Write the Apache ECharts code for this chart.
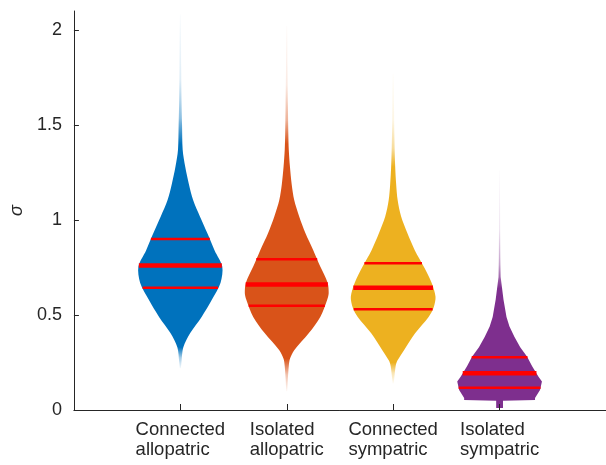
<!DOCTYPE html>
<html>
<head>
<meta charset="utf-8">
<script src="https://cdn.jsdelivr.net/npm/echarts@6/dist/echarts.min.js"></script>
<style>
html,body{margin:0;padding:0;background:#fff;}
#chart{width:606px;height:465px;}
</style>
</head>
<body>
<div id="chart"></div>
<script>
// ---- data ----
const categories = ['Connected\nallopatric', 'Isolated\nallopatric', 'Connected\nsympatric', 'Isolated\nsympatric'];
const categoryPositions = [1, 2, 3, 4];
const yTicks = [0, 0.5, 1, 1.5, 2];

// violin profiles: [sigma, half-width in x-axis units], top to bottom
const profileConnectedAllopatric = [
  [2.08, 0.004], [1.8, 0.008], [1.63, 0.011], [1.5, 0.016], [1.37, 0.022], [1.28, 0.046],
  [1.19, 0.08], [1.105, 0.12], [1.02, 0.183], [0.93, 0.254], [0.84, 0.322], [0.755, 0.394],
  [0.67, 0.378], [0.58, 0.296], [0.49, 0.2], [0.405, 0.093], [0.33, 0.028], [0.25, 0.01], [0.22, 0.004]
];
const profileIsolatedAllopatric = [
  [2.02, 0.004], [1.8, 0.007], [1.6, 0.011], [1.45, 0.015], [1.37, 0.019], [1.28, 0.03],
  [1.19, 0.046], [1.105, 0.07], [1.02, 0.116], [0.93, 0.176], [0.84, 0.25], [0.755, 0.315],
  [0.67, 0.384], [0.615, 0.394], [0.58, 0.38], [0.49, 0.315], [0.405, 0.208], [0.315, 0.07],
  [0.27, 0.03], [0.23, 0.019], [0.16, 0.01], [0.1, 0.004]
];
const profileConnectedSympatric = [
  [1.77, 0.004], [1.6, 0.008], [1.45, 0.011], [1.28, 0.019], [1.19, 0.028], [1.105, 0.042],
  [1.02, 0.074], [0.93, 0.134], [0.84, 0.204], [0.755, 0.287], [0.67, 0.361], [0.596, 0.398],
  [0.54, 0.38], [0.49, 0.333], [0.405, 0.208], [0.315, 0.102], [0.26, 0.04], [0.23, 0.023], [0.14, 0.004]
];
const profileIsolatedSympatric = [
  [1.26, 0.003], [1.0, 0.005], [0.8, 0.007], [0.7, 0.01], [0.58, 0.037], [0.49, 0.065],
  [0.44, 0.093], [0.385, 0.139], [0.33, 0.194], [0.28, 0.259], [0.23, 0.306], [0.175, 0.366],
  [0.15, 0.398], [0.105, 0.38], [0.08, 0.352], [0.063, 0.333], [0.052, 0.333], [0.049, 0.032], [0.01, 0.032]
];
const profiles = [profileConnectedAllopatric, profileIsolatedAllopatric, profileConnectedSympatric, profileIsolatedSympatric];

const upperQuartiles = [0.90, 0.793, 0.772, 0.277];
const medians = [0.76, 0.66, 0.644, 0.193];
const lowerQuartiles = [0.644, 0.549, 0.53, 0.117];

// where the tails stop being fully opaque (sigma)
const opaqueTop = [1.4, 1.4, 1.28, 0.64];
const opaqueBottom = [0.33, 0.27, 0.25, 0.0];

// ---- styles ----
const colors = ['#0072BD', '#D95319', '#EDB120', '#7E2F8E'];
const outlineSmooth = [0.3, 0.3, 0.3, 0];
const axisColor = '#262626';
const fontFamily = '"Liberation Sans", Arial, Helvetica, sans-serif';

function rgba(hex, a) {
  const n = parseInt(hex.slice(1), 16);
  return 'rgba(' + ((n >> 16) & 255) + ',' + ((n >> 8) & 255) + ',' + (n & 255) + ',' + a + ')';
}
function widthAt(profile, s) {
  for (let i = 0; i < profile.length - 1; i++) {
    const a = profile[i], b = profile[i + 1];
    if (s <= a[0] && s >= b[0]) {
      const t = (a[0] - s) / (a[0] - b[0]);
      return a[1] + (b[1] - a[1]) * t;
    }
  }
  return 0;
}

const chart = echarts.init(document.getElementById('chart'), null, {renderer: 'canvas'});

function renderItem(params, api) {
  const i = params.dataIndex;
  const c = api.value(0);
  const prof = profiles[i];
  const col = colors[i];
  const right = prof.map(p => api.coord([c + p[1], p[0]]));
  const left = prof.slice().reverse().map(p => api.coord([c - p[1], p[0]]));
  const pts = right.concat(left);

  const topS = prof[0][0], botS = prof[prof.length - 1][0];
  const yTop = api.coord([c, topS])[1];
  const yBot = api.coord([c, botS])[1];
  const span = yBot - yTop;
  const off = s => Math.min(1, Math.max(0, (api.coord([c, s])[1] - yTop) / span));
  const oT = off(opaqueTop[i]);
  const stops = [
    {offset: 0, color: rgba(col, 0.02)},
    {offset: oT * 0.5, color: rgba(col, 0.12)},
    {offset: oT * 0.8, color: rgba(col, 0.45)},
    {offset: oT, color: rgba(col, 1)}
  ];
  if (opaqueBottom[i] > botS) {
    const oB = off(opaqueBottom[i]);
    stops.push({offset: oB, color: rgba(col, 1)});
    stops.push({offset: oB + (1 - oB) * 0.5, color: rgba(col, 0.35)});
    stops.push({offset: 1, color: rgba(col, 0.05)});
  } else {
    stops.push({offset: 1, color: rgba(col, 1)});
  }
  const fill = new echarts.graphic.LinearGradient(0, yTop, 0, yBot, stops, true);

  const children = [{
    type: 'polygon',
    shape: {points: pts, smooth: outlineSmooth[i]},
    style: {fill: fill, stroke: null}
  }];
  const lines = [[upperQuartiles[i], 2.5], [medians[i], 4.5], [lowerQuartiles[i], 2.5]];
  lines.forEach(function (q) {
    const hw = widthAt(prof, q[0]);
    const p1 = api.coord([c - hw, q[0]]);
    const p2 = api.coord([c + hw, q[0]]);
    children.push({
      type: 'line',
      shape: {x1: p1[0], y1: p1[1], x2: p2[0], y2: p2[1]},
      style: {stroke: '#FF0000', lineWidth: q[1]}
    });
  });
  return {type: 'group', children: children};
}

const option = {
  backgroundColor: '#ffffff',
  animation: false,
  grid: {left: 70, top: 11, width: 540, height: 399, containLabel: false},
  xAxis: {
    type: 'value', min: 0, max: 5, interval: 1, z: 5,
    axisLine: {show: true, onZero: false, lineStyle: {color: axisColor, width: 1}},
    axisTick: {show: true, inside: true, length: 6, customValues: categoryPositions, lineStyle: {color: axisColor}},
    splitLine: {show: false},
    axisLabel: {
      customValues: categoryPositions,
      margin: 10,
      align: 'center',
      formatter: function (v) {
        const idx = categoryPositions.indexOf(Math.round(v));
        if (idx < 0) return '';
        return categories[idx].split('\n').map(l => '{t|' + l + '}').join('\n');
      },
      rich: {t: {align: 'left', fontSize: 18.5, lineHeight: 20, color: axisColor, fontFamily: fontFamily}}
    }
  },
  yAxis: {
    type: 'value', min: 0, max: 2.1, interval: 0.5, z: 5,
    name: 'σ', nameLocation: 'middle', nameGap: 46,
    nameTextStyle: {fontSize: 18, fontStyle: 'italic', color: axisColor, fontFamily: fontFamily},
    axisLine: {show: true, lineStyle: {color: axisColor, width: 1}},
    axisTick: {show: true, inside: true, length: 5, customValues: yTicks, lineStyle: {color: axisColor}},
    splitLine: {show: false},
    axisLabel: {customValues: yTicks, margin: 12, fontSize: 18, color: axisColor, fontFamily: fontFamily}
  },
  series: [{
    type: 'custom',
    renderItem: renderItem,
    data: categoryPositions.map((p, i) => [p, lowerQuartiles[i], upperQuartiles[i]]),
    encode: {x: 0, y: [1, 2]},
    z: 2
  }]
};
chart.setOption(option);
</script>
</body>
</html>
